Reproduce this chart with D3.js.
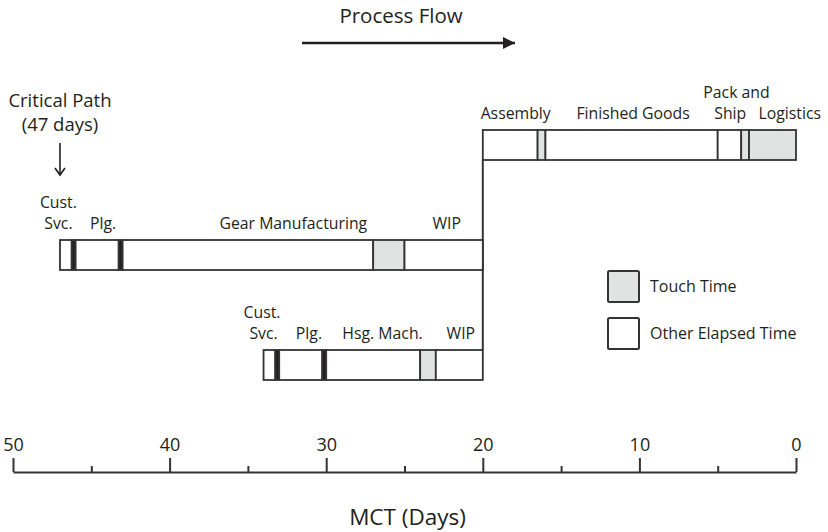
<!DOCTYPE html>
<html>
<head>
<meta charset="utf-8">
<script src="https://cdn.jsdelivr.net/npm/d3@7"></script>
<style>
  body { margin: 0; background: #fff; }
  text { font-family: "Open Sans", "Noto Sans", sans-serif; fill: #231f20; }
</style>
</head>
<body>
<div id="chart"></div>
<script>
// axis values (days remaining)
let majorTicks = [50, 40, 30, 20, 10, 0];
let minorTicks = [45, 35, 25, 15, 5];

// segments: [from day, to day, kind]
let assemblyRow = [
    [20, 16.5, "other"], [16.5, 16, "touch"],
    [16, 5, "other"],
    [5, 3.5, "other"], [3.5, 3, "touch"],
    [3, 0, "touch"]
];
let gearRow = [
    [47, 46.25, "other"], [46.25, 46, "dark"],
    [46, 43.25, "other"], [43.25, 43, "dark"],
    [43, 27, "other"], [27, 25, "touch"],
    [25, 20, "other"]
];
let housingRow = [
    [34, 33.25, "other"], [33.25, 33, "dark"],
    [33, 30.25, "other"], [30.25, 30, "dark"],
    [30, 24, "other"], [24, 23, "touch"],
    [23, 20, "other"]
];

// labels: [text, day, row, line (0 = nearest the bar)]
let stepLabels = [
    ["Assembly", 17.9, "assembly", 0],
    ["Finished Goods", 10.4, "assembly", 0],
    ["Ship", 4.2, "assembly", 0],
    ["Pack and", 3.8, "assembly", 1],
    ["Logistics", 0.4, "assembly", 0],
    ["Svc.", 47.1, "gear", 0],
    ["Cust.", 47.1, "gear", 1],
    ["Plg.", 44.25, "gear", 0],
    ["Gear Manufacturing", 32.1, "gear", 0],
    ["WIP", 22.3, "gear", 0],
    ["Svc.", 34.0, "housing", 0],
    ["Cust.", 34.1, "housing", 1],
    ["Plg.", 31.1, "housing", 0],
    ["Hsg. Mach.", 26.4, "housing", 0],
    ["WIP", 21.4, "housing", 0]
];

let legendItems = [
    ["Touch Time", "touch"],
    ["Other Elapsed Time", "other"]
];

let colorTouch = "#e1e2e2";
let colorOther = "#ffffff";
let colorDark = "#231f20";
let colorLine = "#333333";

let width = 828,
    height = 532;

let svg = d3.select("#chart")
    .append("svg")
    .attr("width", width)
    .attr("height", height);

let x = d3.scaleLinear()
    .domain([50, 0])
    .range([13, 796]);

let rowY = d3.scaleOrdinal()
    .domain(["assembly", "gear", "housing"])
    .range([130, 240, 350]);

let barH = 30;

function fillFor(kind) {
    if (kind == "touch") return colorTouch;
    if (kind == "dark") return colorDark;
    return colorOther;
}

// connector from assembly bar down to housing bar
svg.append("line")
    .attr("x1", x(20)).attr("x2", x(20))
    .attr("y1", rowY("assembly") + barH)
    .attr("y2", rowY("housing"))
    .style("stroke", colorLine)
    .style("stroke-width", 2);

// bars
let rows = [["assembly", assemblyRow], ["gear", gearRow], ["housing", housingRow]];
rows.forEach(function(r) {
    svg.append("g")
        .selectAll("rect")
        .data(r[1])
        .enter()
        .append("rect")
        .attr("x", function(d) { return x(d[0]); })
        .attr("width", function(d) { return x(d[1]) - x(d[0]); })
        .attr("y", rowY(r[0]))
        .attr("height", barH)
        .style("fill", function(d) { return fillFor(d[2]); })
        .style("stroke", colorLine)
        .style("stroke-width", 1.8);
});

// step labels
svg.append("g")
    .selectAll("text")
    .data(stepLabels)
    .enter()
    .append("text")
    .attr("x", function(d) { return x(d[1]); })
    .attr("y", function(d) { return rowY(d[2]) - 11 - d[3] * 21; })
    .attr("text-anchor", "middle")
    .style("font-size", "15.8px")
    .text(function(d) { return d[0]; });

// axis: major ticks with labels, minor ticks without
let axisG = svg.append("g")
    .attr("transform", "translate(0,472)");

axisG.call(d3.axisTop(x)
        .tickValues(majorTicks)
        .tickSizeInner(14)
        .tickSizeOuter(0)
        .tickPadding(7)
        .tickFormat(d3.format("d")));

axisG.append("g")
    .call(d3.axisTop(x)
        .tickValues(minorTicks)
        .tickSizeInner(6)
        .tickSizeOuter(0)
        .tickFormat(""))
    .select(".domain").remove();

axisG.selectAll("path, line")
    .style("stroke", colorLine)
    .style("stroke-width", 2);
axisG.selectAll("text")
    .style("font-size", "18px")
    .style("font-family", "'Open Sans', sans-serif")
    .attr("fill", "#231f20");

svg.append("text")
    .attr("x", (x(50) + x(0)) / 2 + 3)
    .attr("y", 525)
    .attr("text-anchor", "middle")
    .style("font-size", "22.5px")
    .text("MCT (Days)");

// process flow arrow
let defs = svg.append("defs");
defs.append("marker")
    .attr("id", "tri")
    .attr("viewBox", "0 0 10 10")
    .attr("refX", 10).attr("refY", 5)
    .attr("markerUnits", "userSpaceOnUse")
    .attr("markerWidth", 14).attr("markerHeight", 12)
    .attr("orient", "auto")
    .append("path")
    .attr("d", "M0,0L10,5L0,10Z")
    .style("fill", colorDark);

svg.append("text")
    .attr("x", 401)
    .attr("y", 23)
    .attr("text-anchor", "middle")
    .style("font-size", "20.5px")
    .text("Process Flow");

svg.append("line")
    .attr("x1", 302).attr("x2", 515)
    .attr("y1", 43).attr("y2", 43)
    .attr("marker-end", "url(#tri)")
    .style("stroke", colorDark)
    .style("stroke-width", 2.5);

// critical path callout
svg.append("text")
    .attr("x", x(47))
    .attr("y", 107)
    .attr("text-anchor", "middle")
    .style("font-size", "18.5px")
    .text("Critical Path");
svg.append("text")
    .attr("x", x(47))
    .attr("y", 131)
    .attr("text-anchor", "middle")
    .style("font-size", "18.5px")
    .text("(47 days)");

svg.append("line")
    .attr("x1", x(47)).attr("x2", x(47))
    .attr("y1", 143).attr("y2", 175)
    .style("stroke", colorDark)
    .style("stroke-width", 1.6);
svg.append("path")
    .attr("d", "M" + (x(47) - 5) + ",168L" + x(47) + ",175L" + (x(47) + 5) + ",168")
    .style("fill", "none")
    .style("stroke", colorDark)
    .style("stroke-width", 1.6);

// legend
let legend = svg.append("g")
    .attr("transform", "translate(608,271)");
let item = legend.selectAll("g")
    .data(legendItems)
    .enter()
    .append("g")
    .attr("transform", function(d, i) { return "translate(0," + (i * 47) + ")"; });
item.append("rect")
    .attr("width", 31).attr("height", 31)
    .attr("rx", 1.5)
    .style("fill", function(d) { return fillFor(d[1]); })
    .style("stroke", colorLine)
    .style("stroke-width", 2);
item.append("text")
    .attr("x", 42)
    .attr("y", 21)
    .style("font-size", "16px")
    .text(function(d) { return d[0]; });
</script>
</body>
</html>
